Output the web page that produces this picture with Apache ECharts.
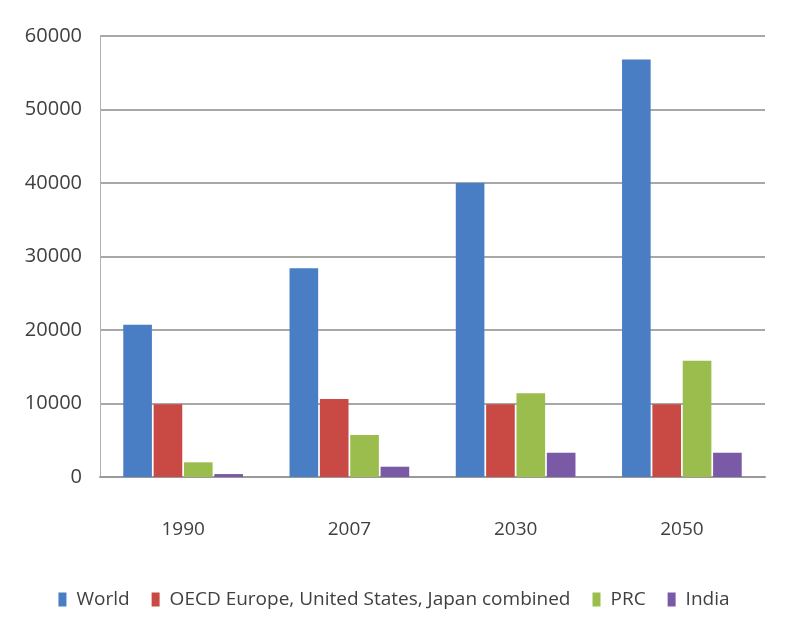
<!DOCTYPE html>
<html>
<head>
<meta charset="utf-8">
<script src="https://cdn.jsdelivr.net/npm/echarts@6/dist/echarts.min.js"></script>
<style>
  html, body { margin: 0; padding: 0; background: #ffffff; }
  #chart { width: 788px; height: 643px; }
</style>
</head>
<body>
<div id="chart"></div>
<script>
  const years = ["1990", "2007", "2030", "2050"];
  const world = [20700, 28400, 40000, 56800];
  const oecd = [9900, 10600, 9900, 9900];
  const prc = [2000, 5700, 11400, 15800];
  const india = [400, 1400, 3300, 3300];
  const yTicks = { min: 0, max: 60000, interval: 10000 };

  const font = "Open Sans";
  const chart = echarts.init(document.getElementById("chart"));

  const makeSeries = (name, data, color) => ({
    name,
    type: "bar",
    data,
    barGap: "6%",
    barCategoryGap: "28%",
    itemStyle: { color },
  });

  chart.setOption({
    backgroundColor: "#ffffff",
    textStyle: { fontFamily: font },
    grid: { left: 100, right: 23, top: 36, bottom: 166 },
    legend: {
      top: 585,
      left: "center",
      itemWidth: 8,
      itemHeight: 14,
      itemGap: 22,
      icon: "rect",
      textStyle: { fontSize: 19, color: "#404040", fontFamily: font, padding: [0, 0, 0, 5] },
    },
    xAxis: {
      type: "category",
      data: years,
      axisTick: { show: false },
      axisLine: { lineStyle: { color: "#9a9a9a", width: 2 } },
      axisLabel: { fontSize: 19, color: "#404040", margin: 43 },
    },
    yAxis: {
      type: "value",
      min: yTicks.min,
      max: yTicks.max,
      interval: yTicks.interval,
      axisLine: { show: true, lineStyle: { color: "#b0b0b0", width: 1 } },
      axisTick: { show: false },
      splitLine: { lineStyle: { color: "#a8a8a8", width: 2 } },
      axisLabel: { fontSize: 20, color: "#404040", margin: 18, formatter: (v) => String(v) },
    },
    series: [
      makeSeries("World", world, "#4a7ec4"),
      makeSeries("OECD Europe, United States, Japan combined", oecd, "#c94a45"),
      makeSeries("PRC", prc, "#9bbd4e"),
      makeSeries("India", india, "#7a5aa6"),
    ],
  });
</script>
</body>
</html>
